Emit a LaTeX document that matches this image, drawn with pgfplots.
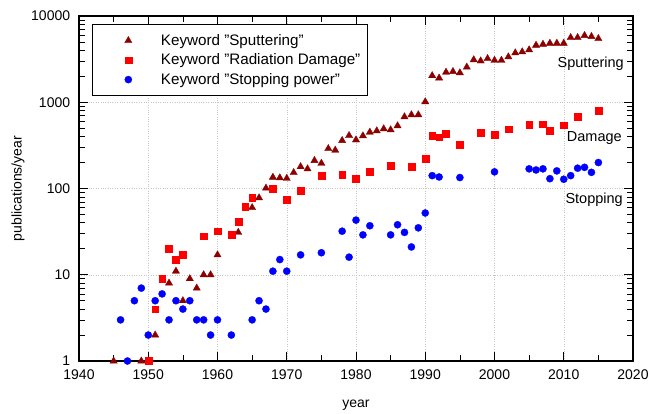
\documentclass[border=0pt]{standalone}
\usepackage{fontspec}
\setmainfont{Liberation Sans}
\usepackage{pgfplots}
\pgfplotsset{compat=1.18}
\definecolor{sput}{RGB}{140,0,0}
\definecolor{dmg}{RGB}{255,0,0}
\definecolor{stp}{RGB}{0,0,255}
\begin{document}
\fontsize{14bp}{17bp}\selectfont
\begin{tikzpicture}
\begin{axis}[
  scale only axis, width=554bp, height=345bp,
  at={(0,0)}, anchor=south west,
  xmin=1940, xmax=2020, ymode=log, ymin=1, ymax=10000,
  xtick={1940,1950,1960,1970,1980,1990,2000,2010,2020},
  xticklabels={1940,1950,1960,1970,1980,1990,2000,2010,2020},
  minor x tick num=1,
  ytick={1,10,100,1000,10000}, yticklabels={1,10,100,1000,10000},
  tick align=inside, major tick length=9bp, minor tick length=6bp,
  every tick/.style={black, line width=0.7pt},
  axis line style={line width=1.1pt},
  grid=major, major grid style={dotted, gray!45, line width=0.5pt},
  xticklabel style={anchor=base, yshift=-18.3bp},
  yticklabel style={anchor=east, xshift=-4bp},
  xlabel={year}, xlabel style={at={(axis description cs:0.5,-0.1362)}, anchor=base},
  ylabel={publications/year}, ylabel style={at={(axis description cs:-0.110,0.5)}, anchor=center},
  legend style={at={(0.023,0.977)}, anchor=north west, draw=black, line width=0.8pt, fill=white,
    font=\fontsize{15.2bp}{18bp}\selectfont,
    inner xsep=4bp, inner ysep=6.5bp, nodes={inner sep=3.2bp}, row sep=0pt},
  legend cell align=left,
  legend image code/.code={\path (-31.8bp,0) (29bp,0); \draw[mark repeat=1,#1] plot coordinates {(0bp,0bp)};},
]
\addplot[only marks, mark=triangle*, mark size=4.2bp, mark options={draw=sput, fill=sput, line width=0.3pt}] coordinates {
(1945,1) (1949,1) (1951,2) (1953,8) (1954,11) (1955,5) (1956,9) (1957,7) (1958,10) (1959,10)
(1960,17) (1963,31) (1965,60) (1966,78) (1967,101) (1968,135) (1969,133) (1970,131) (1971,153)
(1972,179) (1973,169) (1974,211) (1975,196) (1976,290) (1977,278) (1978,360) (1979,411) (1980,366)
(1981,408) (1982,450) (1983,466) (1984,492) (1985,479) (1986,533) (1987,678) (1988,716) (1989,716)
(1990,1013) (1991,2033) (1992,1910) (1993,2230) (1994,2270) (1995,2195) (1996,2555) (1997,3110)
(1998,3013) (1999,3206) (2000,3063) (2001,3063) (2002,3357) (2003,3736) (2004,3836) (2005,4050)
(2006,4580) (2007,4700) (2008,4830) (2009,4830) (2010,4830) (2011,5620) (2012,5620) (2013,5935)
(2014,5780) (2015,5470)
};
\addlegendentry{Keyword "Sputtering"}
\addplot[only marks, mark=square*, mark size=3.4bp, mark options={draw=dmg, fill=dmg, line width=0.3pt}] coordinates {
(1950,1) (1951,4) (1952,9) (1953,20) (1954,15) (1955,17) (1958,28) (1960,32) (1962,29) (1963,41)
(1964,61) (1965,79) (1968,99) (1970,75) (1972,94) (1975,142) (1978,146) (1980,131) (1982,158)
(1985,186) (1988,181) (1990,222) (1991,408) (1992,395) (1993,428) (1995,321) (1998,445) (2000,419)
(2002,488) (2005,547) (2007,557) (2008,470) (2010,543) (2012,684) (2015,803)
};
\addlegendentry{Keyword "Radiation Damage"}
\addplot[only marks, mark=*, mark size=3.6bp, mark options={draw=stp, fill=stp, line width=0.3pt}] coordinates {
(1946,3) (1947,1) (1948,5) (1949,7) (1950,2) (1951,5) (1952,6) (1953,3) (1954,5) (1955,4) (1956,5)
(1957,3) (1958,3) (1959,2) (1960,3) (1962,2) (1965,3) (1966,5) (1967,4) (1968,11) (1969,15) (1970,11)
(1972,17) (1975,18) (1978,32) (1979,16) (1980,43) (1981,29) (1982,37) (1985,29) (1986,38) (1987,31)
(1988,21) (1989,35) (1990,52) (1991,141) (1992,136) (1995,134) (2000,156) (2005,169) (2006,164)
(2007,169) (2008,130) (2009,160) (2010,128) (2011,141) (2012,172) (2013,176) (2014,154) (2015,200)
};
\addlegendentry{Keyword "Stopping power"}
\node[anchor=base east, inner sep=0pt, font=\fontsize{14.5bp}{17bp}\selectfont] at (axis cs:2018.7,2520) {Sputtering};
\node[anchor=base east, inner sep=0pt, font=\fontsize{14.5bp}{17bp}\selectfont] at (axis cs:2018.4,349) {Damage};
\node[anchor=base east, inner sep=0pt, font=\fontsize{14.5bp}{17bp}\selectfont] at (axis cs:2018.55,67.1) {Stopping};
\end{axis}
\pgfresetboundingbox
\path ([shift={(-79bp,-52bp)}]current axis.south west) rectangle ([shift={(18bp,16bp)}]current axis.north east);
\end{tikzpicture}
\end{document}
